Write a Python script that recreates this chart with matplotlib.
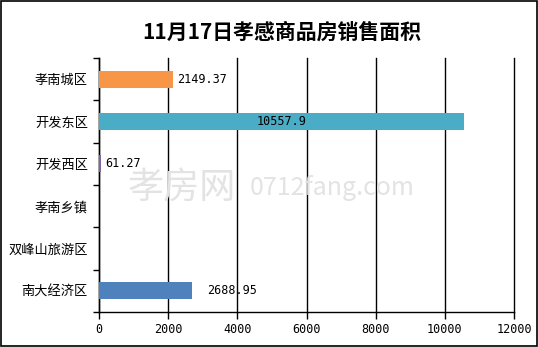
import matplotlib
matplotlib.use('Agg')
import matplotlib.pyplot as plt
import numpy as np

plt.rcParams['font.family'] = ['Noto Sans CJK SC', 'DejaVu Sans']

# data
districts = ['孝南城区', '开发东区', '开发西区', '孝南乡镇', '双峰山旅游区', '南大经济区']
areas = [2149.37, 10557.9, 61.27, 0, 0, 2688.95]
labels = ['2149.37', '10557.9', '61.27', '', '', '2688.95']
colors = ['#F79646', '#4BACC6', '#8064A2', '#4F81BD', '#4F81BD', '#4F81BD']

fig = plt.figure(figsize=(5.38, 3.47), dpi=100)
ax = fig.add_axes([99 / 538, 1 - 312 / 347, 415 / 538, 254 / 347])

pos = np.arange(len(districts))
ax.barh(pos, areas, height=0.4, color=colors, zorder=3)
ax.set_ylim(len(districts) - 0.5, -0.5)
ax.set_xlim(0, 12000)
ax.set_xticks(np.arange(0, 12001, 2000))
ax.set_yticks(pos)
ax.set_yticklabels(districts, fontsize=9.5)
ax.tick_params(axis='y', length=0, pad=8)
ax.set_yticks(np.arange(-0.5, len(districts), 1), minor=True)
ax.tick_params(axis='y', which='minor', length=4, width=1, direction='out')
ax.tick_params(axis='x', length=5, width=1, direction='out', labelsize=8.5, pad=3)
for t in ax.get_xticklabels():
    t.set_family('DejaVu Sans Mono')

ax.grid(axis='x', color='black', linewidth=1, zorder=1)
for gl in ax.get_xgridlines():
    gl.set_clip_on(False)
for s in ['top', 'right']:
    ax.spines[s].set_visible(False)
for s in ['left', 'bottom']:
    ax.spines[s].set_linewidth(1)

# value labels
for i, (v, lab) in enumerate(zip(areas, labels)):
    if not lab:
        continue
    if v > 8000:
        ax.text(v / 2, i, lab, ha='center', va='center', fontsize=8.5, family='DejaVu Sans Mono', zorder=4)
    elif v > 2500:
        ax.text(v + 450, i, lab, ha='left', va='center', fontsize=8.5, family='DejaVu Sans Mono', zorder=4)
    else:
        ax.text(v + 120, i, lab, ha='left', va='center', fontsize=8.5, family='DejaVu Sans Mono', zorder=4)

# watermark
fig.text(128 / 538, 1 - 188 / 347, '孝房网', fontsize=26, color='#e3e3e3', ha='left', va='center', zorder=0)
fig.text(250 / 538, 1 - 188 / 347, '0712fang.com', fontsize=18, color='#e3e3e3', ha='left', va='center', zorder=0)

fig.text(282 / 538, 1 - 32 / 347, '11月17日孝感商品房销售面积', ha='center', va='center',
         fontsize=15, fontweight='bold')

# figure border
fig.patches.append(plt.Rectangle((0.001, 0.002), 0.997, 0.995, transform=fig.transFigure,
                                 fill=False, edgecolor='black', linewidth=1.2))

fig.savefig('out.png', dpi=100)
